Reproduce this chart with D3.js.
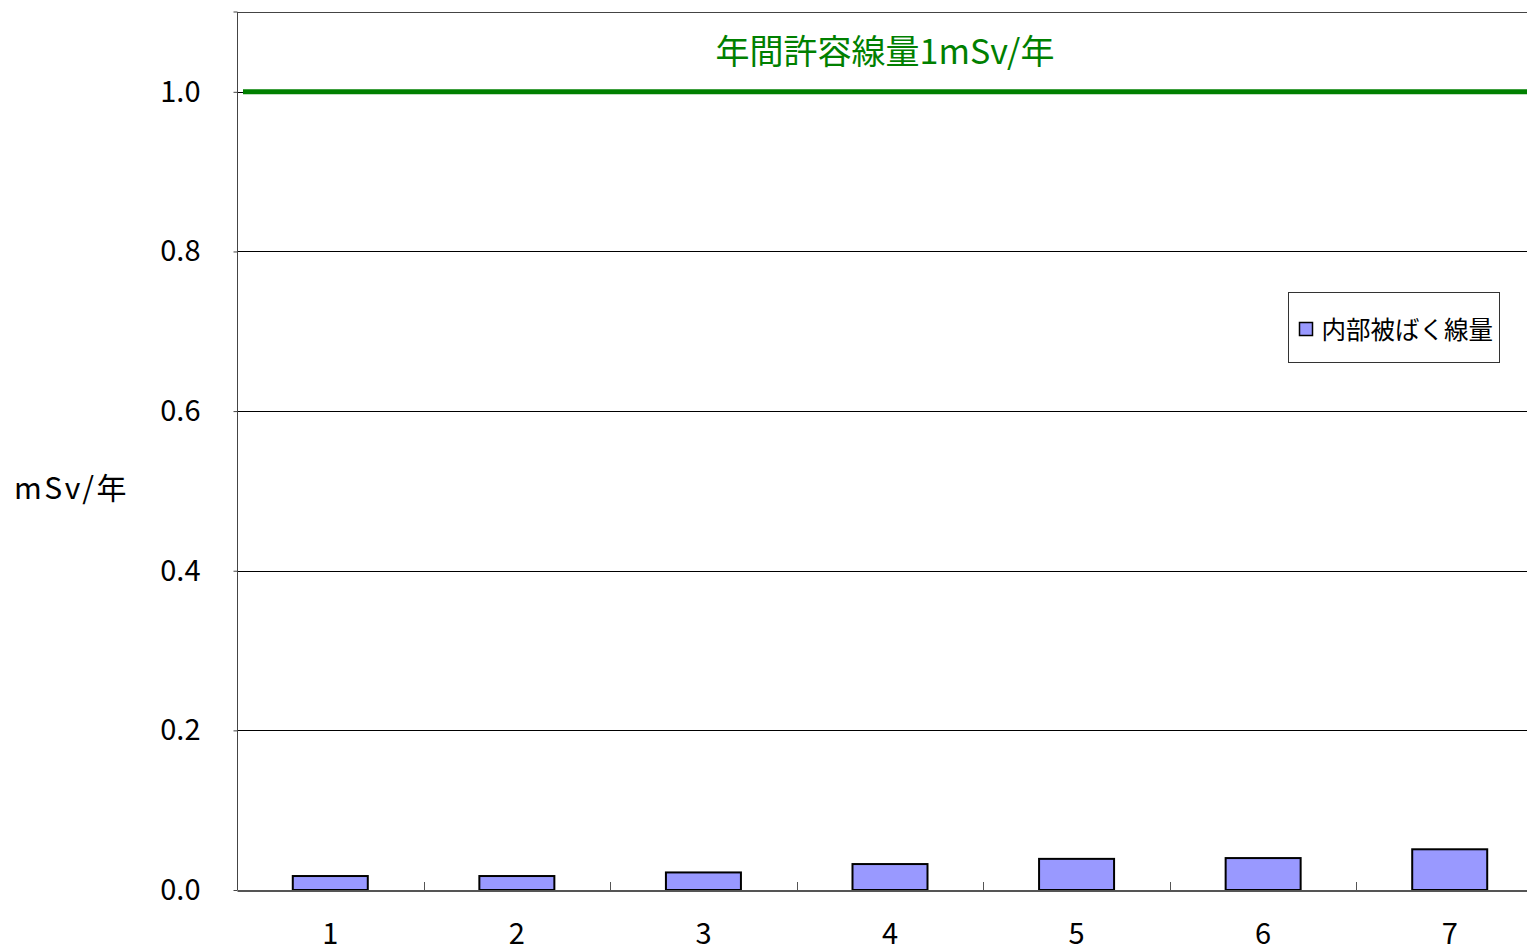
<!DOCTYPE html>
<html>
<head>
<meta charset="utf-8">
<script src="https://cdn.jsdelivr.net/npm/d3@7"></script>
<style>
  html, body { margin: 0; padding: 0; background: #fff; overflow: hidden; }
  svg { display: block; font-family: "Noto Sans CJK JP", "Noto Sans", sans-serif; }
</style>
</head>
<body>
<svg id="chart" width="1527" height="947"></svg>
<script>
// Internal exposure dose per category (mSv/year)
const categories = ["1", "2", "3", "4", "5", "6", "7"];
const doseValues = [0.0175, 0.0175, 0.022, 0.0325, 0.039, 0.040, 0.051];
const yTicks = [0, 0.2, 0.4, 0.6, 0.8, 1.0];
const limitValue = 1.0;
const limitLabel = "年間許容線量1mSv/年";
const seriesName = "内部被ばく線量";
const yTitle = "mSv/年";

const svg = d3.select("#chart");
const plotLeft = 237, plotRight = 1543, plotTop = 12, plotBottom = 890;

const x = d3.scaleBand()
  .domain(categories)
  .range([plotLeft, plotRight])
  .paddingInner(0.598)
  .paddingOuter(0.299);

const y = d3.scaleLinear().domain([0, 1.1]).range([plotBottom, plotTop]);

// horizontal gridlines
svg.append("g")
  .selectAll("line")
  .data(yTicks.filter(v => v > 0))
  .join("line")
  .attr("x1", plotLeft).attr("x2", plotRight)
  .attr("y1", d => Math.round(y(d)) + 0.5).attr("y2", d => Math.round(y(d)) + 0.5)
  .attr("stroke", "#000").attr("stroke-width", 1);

// top border of plot area
svg.append("line")
  .attr("x1", plotLeft).attr("x2", plotRight)
  .attr("y1", plotTop + 0.5).attr("y2", plotTop + 0.5)
  .attr("stroke", "#444").attr("stroke-width", 1);

// bars
svg.append("g")
  .selectAll("rect")
  .data(categories.map((c, i) => ({ c, v: doseValues[i] })))
  .join("rect")
  .attr("x", d => x(d.c))
  .attr("y", d => y(d.v))
  .attr("width", x.bandwidth())
  .attr("height", d => y(0) - y(d.v))
  .attr("fill", "#9999ff")
  .attr("stroke", "#000")
  .attr("stroke-width", 2);

// y axis
const yAxis = svg.append("g")
  .attr("transform", `translate(${plotLeft + 0.5},0)`)
  .call(d3.axisLeft(y).tickValues(yTicks).tickFormat(d3.format(".1f")).tickSize(4).tickPadding(33));
yAxis.select(".domain").attr("stroke", "#444").attr("d", `M-4,${plotTop}H0V${plotBottom}`);
yAxis.selectAll(".tick line").attr("stroke", "#444");
yAxis.selectAll("text").attr("font-size", 29).attr("fill", "#000")
  .attr("font-family", "'Noto Sans CJK JP', sans-serif");

// x axis
const xAxis = svg.append("g")
  .attr("transform", `translate(0,${plotBottom + 0.5})`)
  .call(d3.axisBottom(x).tickSize(0).tickPadding(33));
xAxis.select(".domain").attr("stroke", "#555").attr("stroke-width", 2);
xAxis.selectAll("text").attr("font-size", 29).attr("fill", "#000")
  .attr("font-family", "'Noto Sans CJK JP', sans-serif");

// category boundary tick marks (inside the plot)
const step = x.step();
svg.append("g")
  .selectAll("line")
  .data(d3.range(1, categories.length))
  .join("line")
  .attr("x1", i => Math.round(plotLeft + i * step) + 0.5)
  .attr("x2", i => Math.round(plotLeft + i * step) + 0.5)
  .attr("y1", plotBottom - 8).attr("y2", plotBottom)
  .attr("stroke", "#555").attr("stroke-width", 1);

// annual limit line
svg.append("line")
  .attr("x1", plotLeft + 6).attr("x2", plotRight)
  .attr("y1", y(limitValue)).attr("y2", y(limitValue))
  .attr("stroke", "#008000").attr("stroke-width", 5);

svg.append("text")
  .attr("x", 885).attr("y", 49)
  .attr("text-anchor", "middle")
  .attr("dominant-baseline", "central")
  .attr("font-size", 34)
  .attr("fill", "#008000")
  .text(limitLabel);

// y axis title
svg.append("text")
  .attr("x", 14).attr("y", 486)
  .attr("dominant-baseline", "central")
  .attr("font-size", 30)
  .attr("letter-spacing", 2.5)
  .attr("fill", "#000")
  .text(yTitle);

// legend
const legend = svg.append("g").attr("transform", "translate(1288.5,292.5)");
legend.append("rect")
  .attr("width", 211).attr("height", 70)
  .attr("fill", "#fff").attr("stroke", "#333").attr("stroke-width", 1);
legend.append("rect")
  .attr("x", 11).attr("y", 30).attr("width", 13).attr("height", 13)
  .attr("fill", "#9999ff").attr("stroke", "#000").attr("stroke-width", 1.5);
legend.append("text")
  .attr("x", 33).attr("y", 35.5)
  .attr("dominant-baseline", "central")
  .attr("font-size", 24.5)
  .attr("fill", "#000")
  .text(seriesName);
</script>
</body>
</html>
